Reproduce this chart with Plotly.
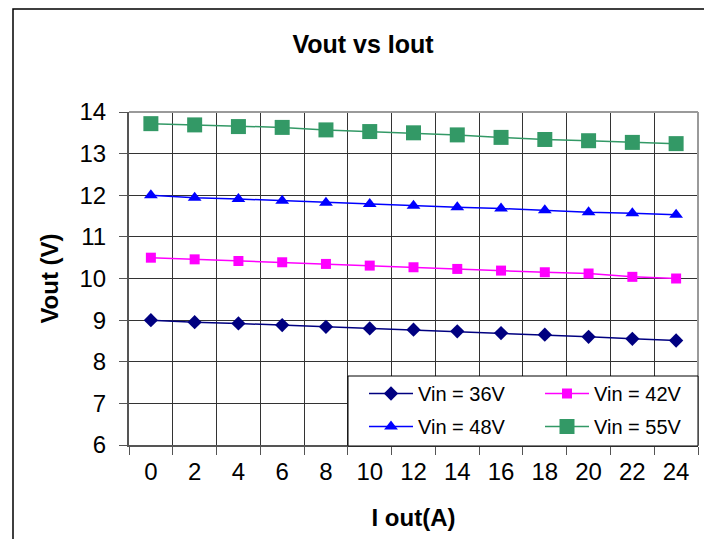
import plotly.graph_objects as go

iout = [0, 2, 4, 6, 8, 10, 12, 14, 16, 18, 20, 22, 24]
vin36 = [9.00, 8.95, 8.92, 8.88, 8.84, 8.80, 8.77, 8.73, 8.69, 8.65, 8.60, 8.55, 8.51]
vin42 = [10.50, 10.46, 10.42, 10.39, 10.35, 10.31, 10.27, 10.23, 10.19, 10.15, 10.12, 10.04, 10.00]
vin48 = [12.00, 11.94, 11.91, 11.87, 11.82, 11.79, 11.75, 11.71, 11.68, 11.64, 11.59, 11.57, 11.53]
vin55 = [13.72, 13.69, 13.65, 13.63, 13.57, 13.53, 13.50, 13.45, 13.39, 13.34, 13.31, 13.27, 13.24]

series = [
    ("Vin = 36V", vin36, "#000080", "diamond", 11, "legend"),
    ("Vin = 42V", vin42, "#FF00FF", "square", 10, "legend2"),
    ("Vin = 48V", vin48, "#0000FF", "triangle-up", 12, "legend"),
    ("Vin = 55V", vin55, "#339966", "square", 15, "legend2"),
]

W, H = 704, 539
L, R, T, B = 129, 6, 112, 94
pw, ph = W - L - R, H - T - B

def px_x(p):
    return (p - L) / pw

def px_y(p):
    return (H - B - p) / ph

fig = go.Figure()
for name, vals, color, sym, size, leg in series:
    fig.add_trace(go.Scatter(
        x=iout, y=vals, name=name, mode="lines+markers",
        line=dict(color=color, width=1.5),
        marker=dict(symbol=sym, size=size, color=color),
        legend=leg, legendgroup=name,
    ))

font = "Liberation Sans, Arial, sans-serif"
leg_common = dict(
    orientation="v", xanchor="left", yanchor="top",
    bgcolor="rgba(0,0,0,0)", borderwidth=0, tracegroupgap=4,
    itemwidth=44,
    font=dict(size=20, family=font), y=px_y(374),
)
fig.update_layout(
    width=W, height=H,
    margin=dict(l=L, r=R, t=T, b=B, autoexpand=False),
    paper_bgcolor="white", plot_bgcolor="white",
    font=dict(family=font, size=24, color="black"),
    title=dict(text="<b>Vout vs Iout</b>", x=363 / W, xanchor="center",
               y=1 - 44 / H, yanchor="middle", yref="container",
               font=dict(size=25, family=font)),
    xaxis=dict(
        range=[-1, 25], tickvals=iout, ticks="", showgrid=False,
        zeroline=False, showline=True, linecolor="#555555", linewidth=1.5,
        mirror=False,
        minor=dict(tick0=-1, dtick=2, showgrid=True, gridcolor="#333333",
                   gridwidth=1, ticks="outside", ticklen=8,
                   tickcolor="#555555"),
        title=dict(text="<b>I out(A)</b>", standoff=26, font=dict(size=24)),
        tickfont=dict(size=24),
        ticklabelstandoff=4,
    ),
    yaxis=dict(
        range=[6, 14], dtick=1, showgrid=True, gridcolor="#333333",
        gridwidth=1, zeroline=False, showline=True, linecolor="#555555",
        linewidth=2, ticks="outside", ticklen=8, tickcolor="#555555",
        title=dict(text="<b>Vout (V)</b>", standoff=14, font=dict(size=24)),
        tickfont=dict(size=24),
        ticklabelstandoff=8,
    ),
    legend=dict(x=px_x(364), **leg_common),
    legend2=dict(x=px_x(540), **leg_common),
    showlegend=True,
)

# top and right borders of plot area
fig.add_shape(type="line", xref="paper", yref="paper", x0=0, x1=1, y0=1, y1=1,
              line=dict(color="#9a9a9a", width=2))
fig.add_shape(type="line", xref="paper", yref="paper", x0=1, x1=1, y0=0, y1=1,
              line=dict(color="#9a9a9a", width=2))
# legend box
fig.add_shape(type="rect", xref="paper", yref="paper",
              x0=px_x(348), x1=px_x(698), y0=px_y(446), y1=px_y(376),
              line=dict(color="black", width=1), fillcolor="white",
              layer="above")
# outer chart border
fig.add_shape(type="rect", xref="paper", yref="paper",
              x0=px_x(13), x1=px_x(712), y0=px_y(548), y1=px_y(9),
              line=dict(color="black", width=1.5), layer="above")

fig.write_html(
    "out.html",
    config={"displayModeBar": False},
    post_script="document.body.style.margin='0';document.documentElement.style.overflow='hidden';document.body.style.overflow='hidden';",
)
